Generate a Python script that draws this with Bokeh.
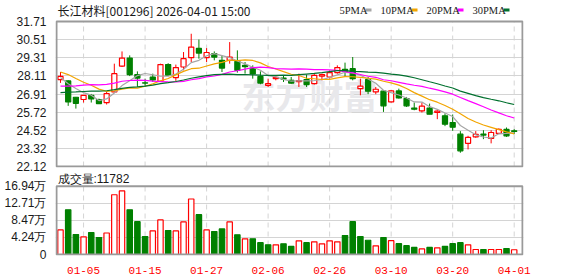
import numpy as np
from bokeh.plotting import figure
from bokeh.layouts import column
from bokeh.models import Range1d, FixedTicker, Label, ColumnDataSource
from bokeh.embed import file_html
from bokeh.resources import INLINE

# ---------------- data ----------------
dates = ["12-29", "12-30", "12-31", "01-05", "01-06", "01-07", "01-08", "01-09", "01-12", "01-13",
         "01-14", "01-15", "01-16", "01-19", "01-20", "01-21", "01-22", "01-23", "01-26", "01-27",
         "01-28", "01-29", "01-30", "02-02", "02-03", "02-04", "02-05", "02-06", "02-09", "02-10",
         "02-11", "02-12", "02-13", "02-24", "02-25", "02-26", "02-27", "03-02", "03-03", "03-04",
         "03-05", "03-06", "03-09", "03-10", "03-11", "03-12", "03-13", "03-16", "03-17", "03-18",
         "03-19", "03-20", "03-23", "03-24", "03-25", "03-26", "03-27", "03-30", "03-31", "04-01"]

open_ = [27.87, 27.78, 26.70, 26.55, 26.83, 26.55, 26.35, 27.05, 28.76, 29.29,
         28.20, 27.66, 28.04, 27.75, 28.86, 28.00, 28.70, 29.32, 29.93, 29.32,
         29.58, 29.14, 29.14, 29.07, 28.81, 28.63, 28.08, 27.49, 27.93, 27.97,
         27.82, 27.74, 27.87, 27.60, 28.10, 28.04, 28.33, 28.55, 28.59, 27.27,
         27.87, 27.05, 27.10, 26.39, 27.12, 26.61, 25.99, 25.80, 25.99, 25.69,
         25.47, 25.03, 24.26, 23.65, 24.08, 24.26, 23.98, 24.31, 24.57, 24.48]
high = [28.37, 27.82, 26.72, 26.85, 26.92, 26.61, 27.05, 28.92, 29.73, 29.47,
        28.41, 27.93, 28.26, 28.92, 28.95, 28.86, 29.69, 30.90, 30.52, 29.95,
        29.73, 29.47, 30.35, 29.80, 29.03, 28.81, 28.41, 27.93, 28.10, 28.15,
        28.04, 28.26, 28.20, 28.26, 28.26, 28.48, 28.81, 28.99, 29.36, 27.93,
        28.04, 27.38, 27.16, 27.16, 27.27, 26.72, 26.35, 26.35, 26.28, 25.84,
        25.63, 25.56, 24.46, 24.15, 24.46, 24.52, 24.52, 24.64, 24.70, 24.59]
low = [27.65, 26.13, 25.95, 26.35, 26.35, 26.26, 26.22, 27.01, 28.70, 28.10,
       27.38, 27.38, 27.71, 27.71, 28.10, 27.78, 28.48, 29.03, 29.25, 29.03,
       29.14, 28.37, 28.92, 28.33, 28.26, 27.93, 27.56, 27.38, 27.82, 27.71,
       27.60, 27.38, 27.38, 27.54, 27.82, 27.93, 28.26, 28.04, 27.82, 26.83,
       26.90, 26.90, 25.73, 26.35, 26.61, 26.06, 25.84, 25.69, 25.58, 25.25,
       24.79, 24.48, 23.03, 23.25, 24.02, 23.93, 23.65, 24.26, 24.08, 24.26]
close = [28.08, 26.39, 26.30, 26.83, 26.59, 26.28, 26.94, 28.26, 29.29, 28.20,
         27.97, 27.64, 27.84, 28.86, 28.15, 28.66, 29.25, 30.02, 29.62, 29.66,
         29.36, 28.63, 29.36, 28.48, 28.72, 28.24, 27.64, 27.60, 28.02, 27.90,
         27.64, 27.80, 27.54, 28.15, 28.20, 28.33, 28.66, 28.41, 27.93, 27.44,
         27.10, 27.23, 26.13, 27.12, 26.65, 26.13, 25.91, 26.11, 25.58, 25.78,
         24.92, 24.72, 23.16, 24.04, 24.24, 24.20, 24.37, 24.57, 24.15, 24.44]
# volume in units of 万 (10k)
volume_wan = [6.10, 11.10, 4.95, 4.40, 5.45, 4.20, 5.35, 14.85, 15.80, 11.10,
              8.15, 4.45, 5.85, 8.60, 5.95, 5.85, 8.10, 13.80, 9.90, 6.10,
              5.70, 6.35, 8.10, 4.90, 3.90, 3.90, 2.95, 2.40, 2.40, 2.65,
              2.00, 3.40, 2.95, 3.15, 2.65, 3.40, 3.15, 4.70, 8.15, 4.45,
              3.55, 2.15, 4.20, 3.45, 2.70, 2.20, 1.75, 1.40, 1.75, 1.65,
              2.00, 2.70, 2.95, 2.40, 1.25, 1.25, 1.25, 1.25, 1.50, 1.1782]
# closes before the visible window (estimated), needed so the MAs start at the first candle
prior_close = [25.6, 25.8, 26.0, 25.9, 26.1, 26.3, 26.2, 26.5, 26.4, 26.9,
               26.2, 26.0, 25.8, 26.1, 26.4, 26.3, 26.6, 26.9, 27.2, 27.4,
               28.1, 28.9, 29.3, 28.6, 28.8, 28.4, 27.9, 28.2, 27.42]

price_ticks = [22.12, 23.32, 24.52, 25.72, 26.91, 28.11, 29.31, 30.51, 31.71]
price_tick_labels = ["22.12", "23.32", "24.52", "25.72", "26.91", "28.11", "29.31", "30.51", "31.71"]
vol_ticks = [0, 4.24, 8.47, 12.71, 16.94]
vol_tick_labels = ["0", "4.24万", "8.47万", "12.71万", "16.94万"]
date_tick_labels = ["01-05", "01-15", "01-27", "02-06", "02-26", "03-10", "03-20", "04-01"]
ma_periods = [5, 10, 20, 30]
ma_names = ["5PMA", "10PMA", "20PMA", "30PMA"]
ma_colors = ["#a6a6a6", "#f2a500", "#ff00ff", "#00702e"]
stock_title = "长江材料[001296] 2026-04-01 15:00"

RED = "#ff0000"
GREEN = "#008000"
GRID = "#d4d4d4"
BORDER = "#9a9a9a"
TXT = "#1a1a1a"

# ---------------- derived ----------------
n = len(close)
idx = np.arange(n)
o = np.array(open_); c = np.array(close); h = np.array(high); l = np.array(low)
up = c >= o
allc = np.array(prior_close + close)
mas = [np.convolve(allc, np.ones(per) / per, mode="valid")[-n:] for per in ma_periods]
prev_c = np.concatenate([[prior_close[-1]], c[:-1]])
vol_up = c >= prev_c
date_ticks = [dates.index(d) for d in date_tick_labels]

# ---------------- layout geometry (pixels) ----------------
W = 578
PANEL_L, PANEL_R = 56, 522          # panel box edges
PX0, PX1 = -0.52, 60.08             # x data at panel edges
xk = (PX1 - PX0) / (PANEL_R - PANEL_L)
XR = Range1d(PX0 - xk, PX1 + xk)     # frame 1px wider than panel box each side

P_TOP, P_BOT = 21, 166              # price panel pixel rows
H1 = 173
pk = (price_ticks[-1] - price_ticks[0]) / (P_BOT - P_TOP)
P_END = price_ticks[-1] + P_TOP * pk
P_START = price_ticks[0] - 1 * pk    # frame bottom at 167
def py(y):
    return price_ticks[-1] - (y - P_TOP) * pk

V_TOP, V_BOT = 186, 255             # volume panel pixel rows (absolute)
vk = (vol_ticks[-1] - vol_ticks[0]) / (V_BOT - V_TOP)
V_END = vol_ticks[-1] + (V_TOP - H1) * vk
V_START = -1 * vk
def vy(y):
    return vol_ticks[-1] - (y - V_TOP) * vk

def sx(x):
    return PX0 + (x - PANEL_L) * xk

def style_axis(ax):
    ax.axis_line_color = None
    ax.major_tick_line_color = None
    ax.minor_tick_line_color = None
    ax.major_label_standoff = 3
    ax.major_label_text_font = "Liberation Sans"
    ax.major_label_text_font_size = "12px"
    ax.major_label_text_color = TXT

# ---------------- price figure ----------------
p1 = figure(width=W, height=H1, output_backend="svg", toolbar_location=None,
            x_range=XR, y_range=Range1d(P_START, P_END),
            min_border_left=PANEL_L - 1, min_border_right=W - PANEL_R - 1,
            min_border_top=0, min_border_bottom=H1 - 167)
p1.outline_line_color = None
p1.xaxis.visible = False
p1.xgrid.visible = False
p1.yaxis.ticker = FixedTicker(ticks=price_ticks)
p1.yaxis.major_label_overrides = {t: s for t, s in zip(price_ticks, price_tick_labels)}
p1.ygrid.ticker = FixedTicker(ticks=price_ticks[1:-1])
p1.ygrid.grid_line_color = GRID
style_axis(p1.yaxis[0])

# watermark
p1.add_layout(Label(x=sx(309), y=py(94), text="东方财富", text_font="Noto Sans CJK SC",
                    text_font_size="34px", text_font_style="bold", text_color="#e8e8eb",
                    text_align="center", text_baseline="middle", level="underlay"))

# vertical dashed date lines within the panel
p1.segment(x0=date_ticks, y0=price_ticks[0], x1=date_ticks, y1=price_ticks[-1],
           line_color=GRID, line_dash="5 4", line_width=1)

src = ColumnDataSource(dict(x=idx, o=o, c=c, h=h, l=l,
                            top=np.maximum(o, c), bot=np.minimum(o, c),
                            col=[RED if u else GREEN for u in up],
                            fill=["white" if u else GREEN for u in up]))
p1.segment(x0="x", y0="h", x1="x", y1="l", color="col", line_width=1, source=src)
p1.vbar(x="x", top="top", bottom="bot", width=0.66, fill_color="fill", line_color="col",
        line_width=1.2, source=src)

for m, col in zip(mas, ma_colors):
    p1.line(idx, m, line_color=col, line_width=1.2)

# panel box
p1.quad(left=PX0, right=PX1, bottom=price_ticks[0], top=price_ticks[-1],
        fill_color=None, line_color=BORDER, line_width=2)

# header texts
p1.add_layout(Label(x=sx(57), y=py(9.5), text=stock_title, text_font="Noto Sans CJK SC",
                    text_font_size="12px", text_color=TXT, text_baseline="middle"))
leg_text_x = [339, 380, 426, 472]
leg_sw_x = [368, 414, 460, 506]
for name, tx in zip(ma_names, leg_text_x):
    p1.add_layout(Label(x=sx(tx), y=py(9.5), text=name, text_font="Liberation Serif",
                        text_font_size="10.5px", text_color=TXT, text_baseline="middle"))
p1.rect(x=[sx(v) for v in leg_sw_x], y=py(9.5), width=6, height=3,
        width_units="screen", height_units="screen", fill_color=ma_colors,
        line_color=None)

# ---------------- volume figure ----------------
H2 = 276 - H1
p2 = figure(width=W, height=H2, output_backend="svg", toolbar_location=None,
            x_range=XR, y_range=Range1d(V_START, V_END),
            min_border_left=PANEL_L - 1, min_border_right=W - PANEL_R - 1,
            min_border_top=0, min_border_bottom=276 - (V_BOT + 1))
p2.outline_line_color = None
p2.xaxis.ticker = FixedTicker(ticks=date_ticks)
p2.xaxis.major_label_overrides = {t: dates[t] for t in date_ticks}
p2.xgrid.visible = False
p2.yaxis.ticker = FixedTicker(ticks=vol_ticks)
p2.yaxis.major_label_overrides = {t: s for t, s in zip(vol_ticks, vol_tick_labels)}
p2.ygrid.ticker = FixedTicker(ticks=vol_ticks[1:-1])
p2.ygrid.grid_line_color = GRID
style_axis(p2.xaxis[0])
style_axis(p2.yaxis[0])
p2.xaxis.major_label_standoff = 5
p2.xaxis.major_label_text_font = "Liberation Mono"
p2.xaxis.major_label_text_font_size = "11px"
p2.xaxis.major_label_text_color = RED

p2.segment(x0=date_ticks, y0=vol_ticks[0], x1=date_ticks, y1=vol_ticks[-1],
           line_color=GRID, line_dash="5 4", line_width=1)

vsrc = ColumnDataSource(dict(x=idx, v=np.array(volume_wan),
                             col=[RED if u else GREEN for u in vol_up],
                             fill=["white" if u else GREEN for u in vol_up]))
p2.vbar(x="x", top="v", bottom=0, width=0.7, fill_color="fill", line_color="col",
        line_width=1.2, source=vsrc)

p2.quad(left=PX0, right=PX1, bottom=vol_ticks[0], top=vol_ticks[-1],
        fill_color=None, line_color=BORDER, line_width=2)

p2.add_layout(Label(x=sx(57), y=vy(179), text="成交量:%d" % round(volume_wan[-1] * 10000),
                    text_font="Liberation Sans", text_font_size="12px", text_color=TXT,
                    text_baseline="middle"))

layout = column(p1, p2, spacing=0)
open("out.html", "w").write(file_html(layout, INLINE))
